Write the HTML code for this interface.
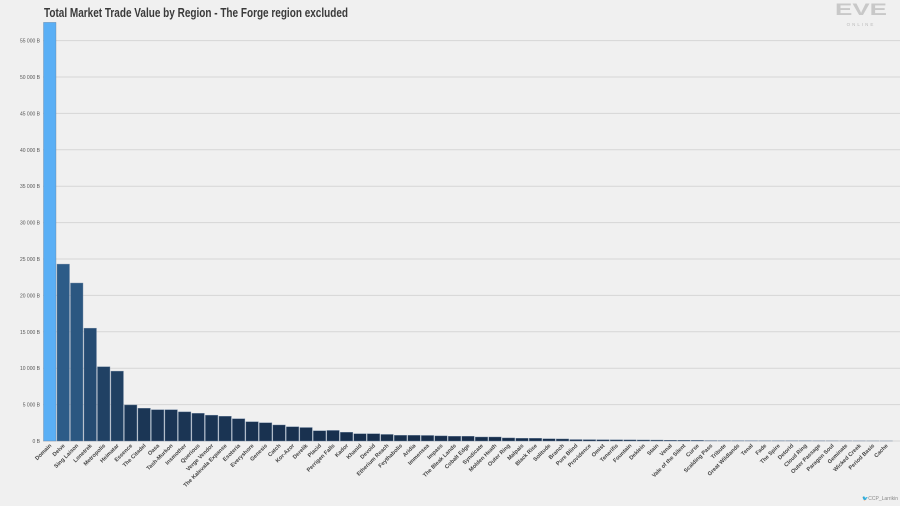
<!DOCTYPE html>
<html><head><meta charset="utf-8"><style>
html,body{margin:0;padding:0;background:#f0f0f0;}
svg{display:block;font-family:"Liberation Sans",sans-serif;}
</style></head><body>
<svg id="chart" width="900" height="506" viewBox="0 0 900 506">
<rect x="0" y="0" width="900" height="506" fill="#f0f0f0"/>
<text x="44" y="17" font-size="13" fill="#3a3a3a" font-weight="bold" textLength="304" lengthAdjust="spacingAndGlyphs">Total Market Trade Value by Region - The Forge region excluded</text>
<g fill="#c4c4c4">
<text x="861" y="15" font-size="17" text-anchor="middle" font-weight="bold" textLength="52" lengthAdjust="spacingAndGlyphs" fill="#c8c8c8">EVE</text>
<text x="861" y="26" font-size="4.5" text-anchor="middle" letter-spacing="2" fill="#bbb">ONLINE</text>
</g>
<g id="grid"></g>
<g id="bars"></g>
<g id="xlabels"></g>
<text x="898" y="500" font-size="5" text-anchor="end" fill="#888">🐦CCP_Larrikin</text>
</svg>
<script>
const regions = ["Domain","Delve","Sing Laison","Lonetrek","Metropolis","Heimatar","Essence","The Citadel","Oasa","Tash-Murkon","Insmother","Querious","Verge Vendor","The Kalevala Expanse","Esoteria","Everyshore","Genesis","Catch","Kor-Azor","Derelik","Placid","Perrigen Falls","Kador","Khanid","Devoid","Etherium Reach","Feythabolis","Aridia","Immensea","Impass","The Bleak Lands","Cobalt Edge","Syndicate","Molden Heath","Outer Ring","Malpais","Black Rise","Solitude","Branch","Pure Blind","Providence","Omist","Tenerifis","Fountain","Deklein","Stain","Venal","Vale of the Silent","Curse","Scalding Pass","Tribute","Great Wildlands","Tenal","Fade","The Spire","Detorid","Cloud Ring","Outer Passage","Paragon Soul","Geminate","Wicked Creek","Period Basis","Cache"];
const values = [57500,24300,21700,15500,10200,9600,4950,4500,4300,4300,4000,3800,3550,3400,3050,2650,2500,2200,1950,1850,1400,1450,1200,1000,1000,900,780,780,760,700,650,650,550,550,420,380,370,300,280,200,190,180,160,150,140,130,110,100,90,60,55,50,45,40,35,30,28,20,15,12,10,8,5];
const yTicks = [0,5000,10000,15000,20000,25000,30000,35000,40000,45000,50000,55000];
const yTickLabels = ["0 B","5 000 B","10 000 B","15 000 B","20 000 B","25 000 B","30 000 B","35 000 B","40 000 B","45 000 B","50 000 B","55 000 B"];

const NS="http://www.w3.org/2000/svg";
const x0=43, x1=893, yBase=441, pxPer=36.4/5000;
const step=(x1-x0)/regions.length;
const yScale=v=>yBase-v*pxPer;
const xScale=i=>x0+i*step;
function mk(tag,attrs,parent){const e=document.createElementNS(NS,tag);for(const k in attrs)e.setAttribute(k,attrs[k]);parent.appendChild(e);return e;}
const grid=document.getElementById('grid');
yTicks.forEach((t,i)=>{
  const l=mk('line',{x1:43,x2:900,y1:yScale(t),y2:yScale(t),stroke:'#d6d6d6','stroke-width':1},grid);
  
  
  const tx=mk('text',{x:40,y:yScale(t)+2,'font-size':5,'text-anchor':'end',fill:'#555'},grid);
  tx.textContent=yTickLabels[i];
  
  
});
function lerp(a,b,t){return Math.round(a+(b-a)*t);}
function color(v,i){
  if(i===0) return '#5aaff5';
  const t=Math.min(1,v/24300);
  return `rgb(${lerp(23,45,t)},${lerp(45,92,t)},${lerp(74,136,t)})`;
}
const bars=document.getElementById('bars'), xl=document.getElementById('xlabels');
values.forEach((v,i)=>{
  const x=xScale(i), y=yScale(v);
  const r=mk('rect',{x:x+0.5,y:y,width:step-1,height:yBase-y,fill:color(v,i),stroke:'#6d84a0','stroke-width':0.4},bars);
  
  
  const cx=x+step/2+2, cy=446;
  const tx=mk('text',{x:cx,y:cy,'font-size':5.6,'font-weight':'bold','text-anchor':'end',fill:'#444',transform:`rotate(-45 ${cx} ${cy})`},xl);
  tx.textContent=regions[i];
  
  
});
</script>
</body></html>
